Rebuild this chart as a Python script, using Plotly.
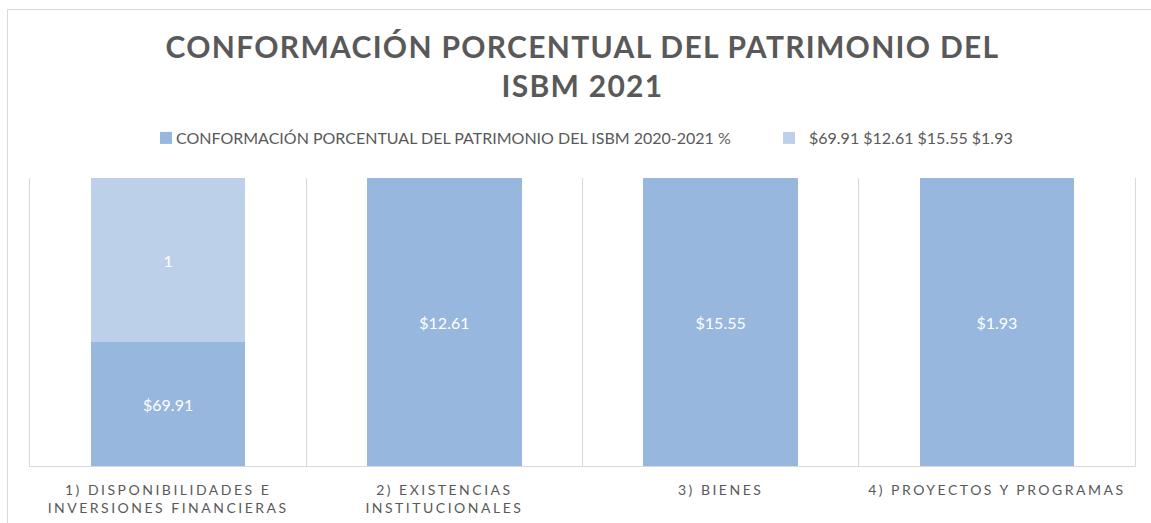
import plotly.graph_objects as go

categories = [
    "1) DISPONIBILIDADES E<br>INVERSIONES FINANCIERAS",
    "2) EXISTENCIAS<br>INSTITUCIONALES",
    "3) BIENES",
    "4) PROYECTOS Y PROGRAMAS",
]
series1_name = "CONFORMACIÓN PORCENTUAL DEL PATRIMONIO DEL ISBM 2020-2021 %"
series1_values = [69.91, 12.61, 15.55, 1.93]
series1_labels = ["$69.91", "$12.61", "$15.55", "$1.93"]
series2_name = "$69.91 $12.61 $15.55 $1.93"
series2_values = [92.5, 0, 0, 0]
series2_labels = ["1", "", "", ""]
title_text = "CONFORMACIÓN PORCENTUAL DEL PATRIMONIO DEL<br>ISBM 2021"

FONT = "Lato"
GRID = "#d9d9d9"
TXT = "#595959"

fig = go.Figure()
fig.add_trace(go.Bar(
    x=categories, y=series1_values, name=series1_name,
    marker=dict(color="#97B7DE", line=dict(width=0)),
    text=series1_labels, textposition="inside", insidetextanchor="middle",
    textfont=dict(color="white", size=16, family=FONT),
    constraintext="none", legend="legend",
))
fig.add_trace(go.Bar(
    x=categories, y=series2_values, name=series2_name,
    marker=dict(color="#BDD0E9", line=dict(width=0)),
    text=series2_labels, textposition="inside", insidetextanchor="middle",
    textfont=dict(color="white", size=16, family=FONT),
    constraintext="none", legend="legend2",
))

legend_common = dict(
    orientation="h", xanchor="left", y=(466 - 138) / 288, yanchor="middle",
    font=dict(size=16, color=TXT, family=FONT), itemclick=False,
    bgcolor="rgba(0,0,0,0)",
)

fig.update_layout(
    width=1151, height=523,
    barmode="stack", barnorm="percent", bargap=0.44,
    paper_bgcolor="white", plot_bgcolor="white",
    margin=dict(l=30, r=16, t=178, b=57, autoexpand=False),
    font=dict(family=FONT, color=TXT),
    title=dict(
        text=title_text, x=0.5, xanchor="center", xref="paper",
        y=1 - 58 / 523, yanchor="middle", yref="container",
        font=dict(size=30, family=FONT, color=TXT, weight="bold"),
    ),
    legend=dict(x=(146 - 30) / 1105, **legend_common),
    legend2=dict(x=(769 - 30) / 1105, **legend_common),
    showlegend=True,
)
fig.update_xaxes(
    type="category", tickson="boundaries", showgrid=True, gridcolor=GRID,
    gridwidth=1, showline=True, linecolor=GRID, linewidth=1, ticks="",
    tickfont=dict(size=14, color=TXT, family=FONT), ticklabelstandoff=11,
    automargin=False,
)
fig.update_yaxes(
    range=[0, 100], showgrid=False, showticklabels=False, zeroline=False,
    showline=True, linecolor=GRID, linewidth=1, mirror=True, ticks="",
    automargin=False,
)
fig.add_shape(
    type="rect", xref="paper", yref="paper",
    x0=(7.5 - 30) / 1105, x1=1.2, y0=-0.5, y1=(466 - 9.5) / 288,
    line=dict(color=GRID, width=1), fillcolor="rgba(0,0,0,0)", layer="below",
)

css = ("body{margin:0!important}.xtick text{letter-spacing:2.5px}"
       ".gtitle{letter-spacing:1.3px}.legendtext{transform:translateX(-10px)}")
post = ("var s=document.createElement('style');s.textContent='" + css +
        "';document.head.appendChild(s);")
fig.write_html("out.html", post_script=post, config={"displayModeBar": False})
